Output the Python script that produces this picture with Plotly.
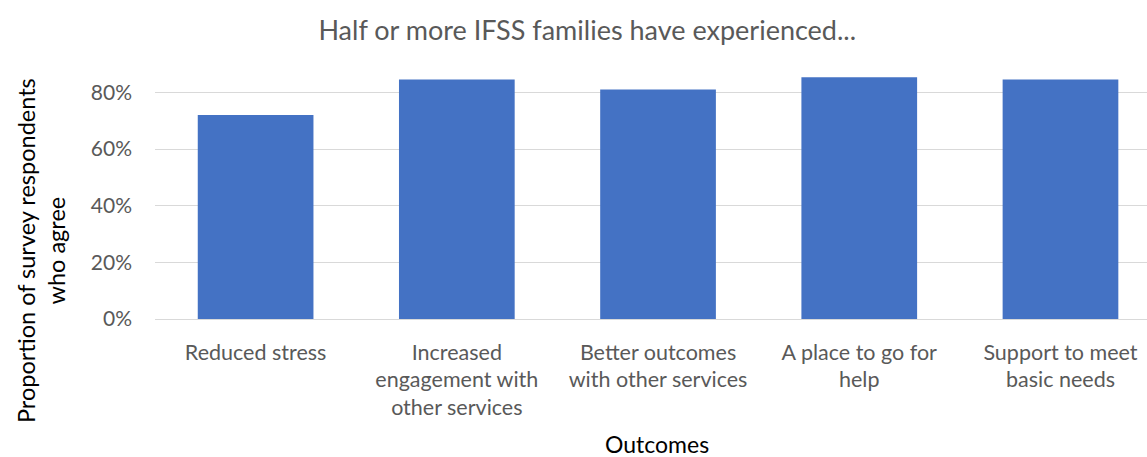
import plotly.graph_objects as go

categories = [
    "Reduced stress",
    "Increased<br>engagement with<br>other services",
    "Better outcomes<br>with other services",
    "A place to go for<br>help",
    "Support to meet<br>basic needs",
]
share_agree = [0.72, 0.845, 0.81, 0.853, 0.845]
y_ticks = [0, 0.2, 0.4, 0.6, 0.8]
y_tick_labels = ["0%", "20%", "40%", "60%", "80%"]

FONT = "Lato, Carlito, Calibri, sans-serif"
GREY = "#595959"

fig = go.Figure(
    go.Bar(
        x=list(range(len(categories))),
        y=share_agree,
        marker=dict(color="#4472C4", line=dict(width=0)),
        width=0.575,
        hoverinfo="skip",
    )
)

fig.update_layout(
    width=1147,
    height=457,
    margin=dict(l=155, r=0, t=64, b=138),
    paper_bgcolor="white",
    plot_bgcolor="white",
    showlegend=False,
    title=dict(
        text="Half or more IFSS families have experienced...",
        x=0.512,
        xanchor="center",
        y=0.934,
        yanchor="middle",
        font=dict(family=FONT, size=27, color=GREY),
    ),
    annotations=[
        dict(
            text="Proportion of survey respondents<br>who agree",
            textangle=-90,
            xref="paper", yref="paper",
            x=-0.115, y=0.27,
            xanchor="center", yanchor="middle",
            showarrow=False,
            font=dict(family=FONT, size=23.5, color="#000000"),
        ),
        dict(
            text="Outcomes",
            xref="paper", yref="paper",
            x=0.506, y=-0.49,
            xanchor="center", yanchor="middle",
            showarrow=False,
            font=dict(family=FONT, size=23, color="#000000"),
        ),
    ],
)

fig.update_xaxes(
    range=[-0.5, 4.43],
    tickvals=list(range(len(categories))),
    ticktext=categories,
    showgrid=False,
    showline=False,
    zeroline=False,
    ticks="",
    ticklabelstandoff=18,
    tickfont=dict(family=FONT, size=21.5, color=GREY),
)

fig.update_yaxes(
    range=[0, 0.9],
    tickvals=y_ticks,
    ticktext=y_tick_labels,
    showgrid=True,
    gridcolor="#D9D9D9",
    gridwidth=1.3,
    zeroline=True,
    zerolinecolor="#D9D9D9",
    zerolinewidth=1.3,
    showline=False,
    ticks="",
    ticklabelstandoff=22,
    tickfont=dict(family=FONT, size=21, color=GREY),
)

fig.write_html("out.html")
